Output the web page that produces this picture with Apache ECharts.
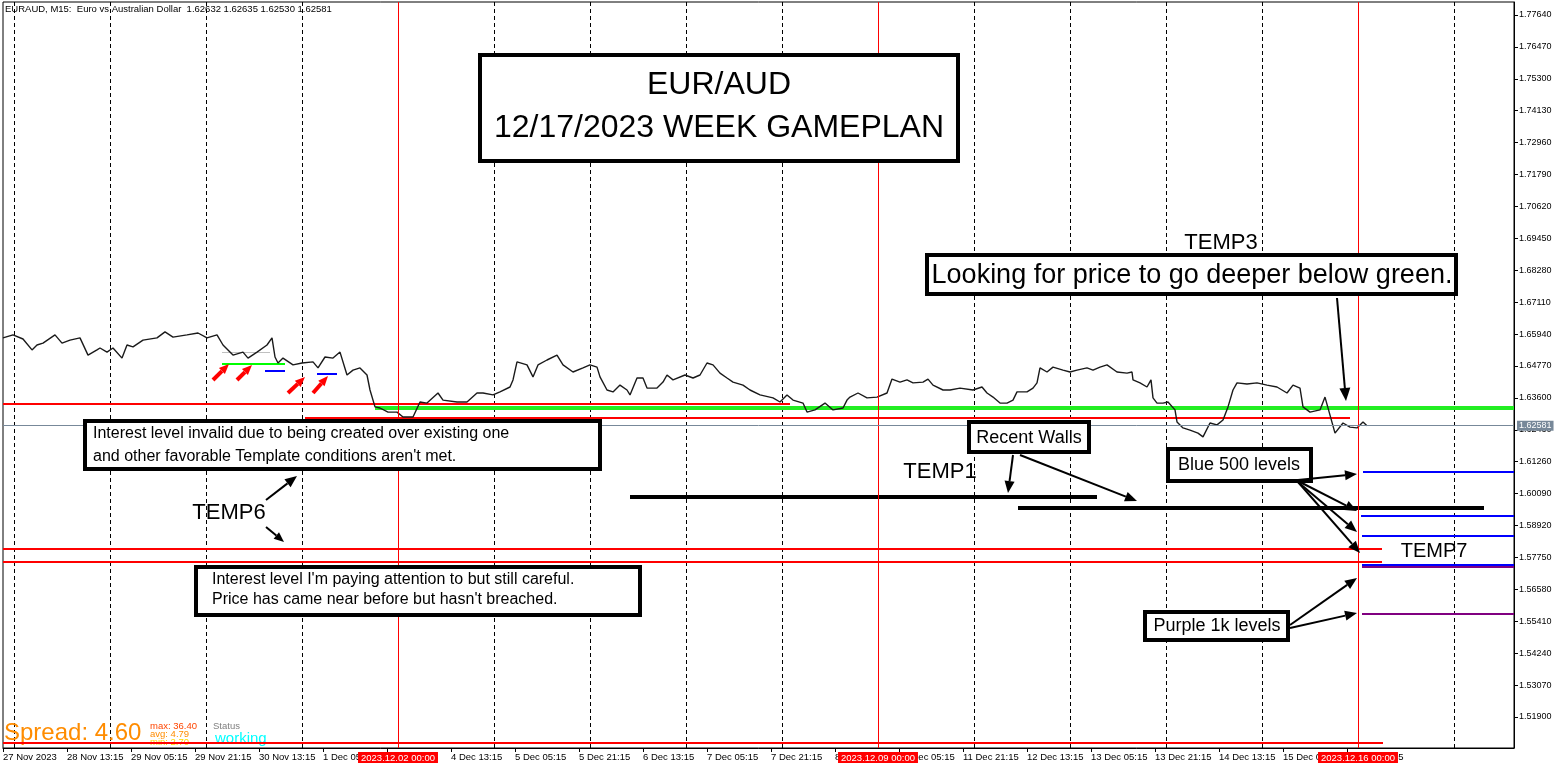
<!DOCTYPE html>
<html>
<head>
<meta charset="utf-8">
<title>EURAUD M15</title>
<script src="https://cdn.jsdelivr.net/npm/echarts@6/dist/echarts.min.js"></script>
<style>
html,body{margin:0;padding:0;background:#fff;}
#chart{width:1567px;height:770px;}
</style>
</head>
<body>
<div id="chart"></div>
<script>
// bottom time scale (one M15 bar per pixel)
var timeLabels = ['27 Nov 2023','28 Nov 13:15','29 Nov 05:15','29 Nov 21:15','30 Nov 13:15','1 Dec 05:15','1 Dec 21:15',
    '4 Dec 13:15','5 Dec 05:15','5 Dec 21:15','6 Dec 13:15','7 Dec 05:15','7 Dec 21:15','8 Dec 13:15',
    '11 Dec 05:15','11 Dec 21:15','12 Dec 13:15','13 Dec 05:15','13 Dec 21:15','14 Dec 13:15','15 Dec 05:15','15 Dec 21:15'];
var timeTickBars = [0,64,128,192,256,320,384,448,512,576,640,704,768,832,896,960,1024,1088,1152,1216,1280,1344];
var priceTicks = [1.519,1.5307,1.5424,1.5541,1.5658,1.5775,1.5892,1.6009,1.6126,1.6243,1.636,1.6477,
    1.6594,1.6711,1.6828,1.6945,1.7062,1.7179,1.7296,1.7413,1.753,1.7647,1.7764];

// price (bar index, price)
var priceBars = [
    0,10,20,29,34,40,52,59,67,77,
    85,94,97,104,110,119,124,130,140,154,
    162,170,184,195,204,214,220,230,240,245,
    254,264,269,272,275,280,290,299,310,315,
    322,330,337,344,350,357,364,367,372,377,
    385,394,400,410,417,424,435,440,454,464,
    474,480,490,497,507,510,514,524,530,535,
    544,554,560,570,580,587,594,597,604,610,
    617,624,627,634,640,644,654,660,664,670,
    682,690,697,704,710,717,724,730,740,747,
    757,770,777,784,790,800,804,812,822,830,
    840,844,847,855,864,874,884,889,897,904,
    910,920,925,930,940,947,957,970,979,984,
    990,997,1004,1010,1014,1024,1030,1034,1037,1044,
    1050,1060,1067,1074,1084,1090,1097,1104,1114,1124,
    1129,1130,1137,1144,1148,1150,1154,1160,1165,1172,
    1174,1180,1187,1195,1200,1207,1214,1220,1225,1230,
    1234,1244,1254,1264,1274,1284,1290,1297,1300,1307,
    1317,1322,1327,1332,1340,1347,1354,1360,1364];
var priceValues = [
    1.6580,1.6591,1.6576,1.6536,1.6554,1.6561,1.6591,1.6561,1.6572,1.6580,
    1.6517,1.6536,1.6543,1.6528,1.6543,1.6506,1.6554,1.6547,1.6572,1.6580,
    1.6602,1.6583,1.6591,1.6598,1.6580,1.6591,1.6554,1.6517,1.6528,1.6506,
    1.6528,1.6554,1.6580,1.6510,1.6488,1.6506,1.6481,1.6488,1.6492,1.6470,
    1.6510,1.6506,1.6528,1.6444,1.6462,1.6470,1.6444,1.6389,1.6327,1.6323,
    1.6308,1.6308,1.6290,1.6290,1.6345,1.6341,1.6378,1.6352,1.6345,1.6345,
    1.6378,1.6378,1.6371,1.6382,1.6400,1.6426,1.6492,1.6481,1.6437,1.6481,
    1.6499,1.6517,1.6481,1.6455,1.6470,1.6481,1.6473,1.6437,1.6389,1.6382,
    1.6407,1.6389,1.6371,1.6433,1.6433,1.6396,1.6396,1.6418,1.6444,1.6426,
    1.6444,1.6433,1.6444,1.6488,1.6481,1.6451,1.6433,1.6418,1.6407,1.6389,
    1.6371,1.6360,1.6345,1.6371,1.6352,1.6341,1.6308,1.6316,1.6341,1.6316,
    1.6323,1.6352,1.6363,1.6378,1.6360,1.6363,1.6378,1.6429,1.6418,1.6426,
    1.6415,1.6418,1.6429,1.6407,1.6389,1.6389,1.6396,1.6389,1.6400,1.6378,
    1.6363,1.6341,1.6341,1.6352,1.6382,1.6382,1.6396,1.6415,1.6470,1.6455,
    1.6473,1.6462,1.6455,1.6462,1.6470,1.6462,1.6473,1.6481,1.6455,1.6451,
    1.6455,1.6426,1.6415,1.6400,1.6426,1.6360,1.6341,1.6341,1.6345,1.6316,
    1.6272,1.6250,1.6242,1.6231,1.6217,1.6268,1.6261,1.6279,1.6327,1.6389,
    1.6415,1.6411,1.6415,1.6407,1.6400,1.6378,1.6407,1.6396,1.6327,1.6308,
    1.6316,1.6363,1.6297,1.6231,1.6268,1.6253,1.6250,1.6272,1.6258];
var lastPrice = 1.62581;

var weekBars = [395, 875, 1355];
var weekLabels = ['2023.12.02 00:00', '2023.12.09 00:00', '2023.12.16 00:00'];

// drawn levels: price, first bar, last bar
var redLevels = [1.6338, 1.6286, 1.5806, 1.5758, 1.50947];
var redFrom = [0, 302, 0, 0, 0];
var redTo = [787, 1347, 1379, 1379, 1380];
var greenLevels = [1.6323];
var greenFrom = [372];
var greenTo = [1511];
var wallLevels = [1.59967, 1.59563];
var wallFrom = [627, 1015];
var wallTo = [1094, 1481];
var blueLevels = [1.60884, 1.5927, 1.58537, 1.57473];
var blueFrom = [1360, 1358, 1359, 1359];
var blueTo = [1511, 1511, 1511, 1511];
var purpleLevels = [1.5740, 1.55677];
var purpleFrom = [1359, 1359];
var purpleTo = [1511, 1511];
var oldLimeLevels = [1.6484];
var oldLimeFrom = [219];
var oldLimeTo = [282];
var oldBlueLevels = [1.6459, 1.6448];
var oldBlueFrom = [262, 314];
var oldBlueTo = [282, 334];
var oldGrayLevels = [1.6528];
var oldGrayFrom = [219];
var oldGrayTo = [267];

var FONT = '"Liberation Sans", Arial, sans-serif';

function levelData(prices, from, to) {
    return prices.map(function (p, i) {
        return {coords: [[from[i], p], [to[i], p]]};
    });
}

function levelSeries(prices, from, to, color, width) {
    return {
        type: 'lines', coordinateSystem: 'cartesian2d', silent: true, z: 3,
        lineStyle: {color: color, width: width, opacity: 1},
        data: levelData(prices, from, to)
    };
}

function arrow(x1, y1, x2, y2, color, width, head) {
    var a = Math.atan2(y2 - y1, x2 - x1), c = Math.cos(a), s = Math.sin(a);
    var bx = x2 - head * c, by = y2 - head * s, hw = head * 0.42;
    return [
        {type: 'line', z: 100, shape: {x1: x1, y1: y1, x2: bx, y2: by}, style: {stroke: color, lineWidth: width}},
        {type: 'polygon', z: 100, shape: {points: [[x2, y2], [bx - hw * s, by + hw * c], [bx + hw * s, by - hw * c]]}, style: {fill: color}}
    ];
}

function box(x, y, w, h) {
    return {type: 'rect', z: 100, shape: {x: x, y: y, width: w, height: h}, style: {fill: '#fff', stroke: '#000', lineWidth: 4}};
}

function label(x, y, text, size, align, color, z) {
    return {type: 'text', z: z || 101, x: x, y: y,
        style: {text: text, font: size + 'px ' + FONT, fill: color || '#000', textAlign: align || 'center', textVerticalAlign: 'middle'}};
}

var gridBars = [];
for (var k = 0; k < 16; k++) { gridBars.push(11 + 96 * k); }

var marks = [
    label(5, 9, 'EURAUD, M15:  Euro vs Australian Dollar  1.62632 1.62635 1.62530 1.62581', 9.5, 'left', '#000', 1),
    box(480, 55, 478, 106),
    label(719, 85, 'EUR/AUD', 32),
    label(719, 128, '12/17/2023 WEEK GAMEPLAN', 32),
    label(1221, 243, 'TEMP3', 22),
    box(927, 255, 529, 39),
    label(1192, 276, 'Looking for price to go deeper below green.', 27),
    box(85, 421, 515, 48),
    label(93, 434, 'Interest level invalid due to being created over existing one', 16, 'left'),
    label(93, 457, "and other favorable Template conditions aren't met.", 16, 'left'),
    box(969, 422, 120, 30),
    label(1029, 438, 'Recent Walls', 18),
    label(940, 472, 'TEMP1', 22),
    box(1168, 449, 143, 32),
    label(1239, 465, 'Blue 500 levels', 18),
    label(229, 513, 'TEMP6', 22),
    label(1434, 551, 'TEMP7', 20),
    box(196, 567, 444, 48),
    label(212, 580, "Interest level I'm paying attention to but still careful.", 16, 'left'),
    label(212, 600, "Price has came near before but hasn't breached.", 16, 'left'),
    box(1145, 612, 143, 28),
    label(1217, 626, 'Purple 1k levels', 18),
    // spread indicator
    label(4, 733, 'Spread: 4.60', 24, 'left', '#ff8c00', 1),
    label(150, 726, 'max: 36.40', 9.5, 'left', '#ff4500', 1),
    label(150, 734, 'avg: 4.79', 9.5, 'left', '#ff8c00', 1),
    label(150, 742, 'min: 2.70', 9.5, 'left', '#ffd700', 1),
    label(213, 726, 'Status', 9.5, 'left', '#808080', 1),
    label(215, 739, 'working', 15, 'left', '#00ffff', 1)
];
var arrows = [
    [1337, 298, 1346, 401, '#000', 2, 13],
    [266, 500, 297, 476, '#000', 2, 12],
    [266, 527, 284, 542, '#000', 2, 10],
    [1013, 455, 1008, 493, '#000', 2, 12],
    [1020, 455, 1137, 501, '#000', 2, 12],
    [1298, 480, 1357, 474, '#000', 2, 12],
    [1298, 481, 1357, 511, '#000', 2, 12],
    [1298, 482, 1357, 532, '#000', 2, 12],
    [1298, 482, 1360, 553, '#000', 2, 12],
    [1290, 625, 1357, 578, '#000', 2, 12],
    [1290, 628, 1357, 613, '#000', 2, 12],
    [213, 380, 229, 364, '#ff0000', 4, 10],
    [237, 380, 252, 365, '#ff0000', 4, 10],
    [288, 393, 305, 377, '#ff0000', 4, 10],
    [313, 393, 328, 376, '#ff0000', 4, 10]
];
arrows.forEach(function (a) { marks = marks.concat(arrow(a[0], a[1], a[2], a[3], a[4], a[5], a[6])); });

var priceData = priceBars.map(function (b, i) { return [b, priceValues[i]]; });

var weekLines = weekBars.map(function (b, i) {
    return {
        xAxis: b,
        lineStyle: {color: '#ff0000', width: 1, type: 'solid'},
        label: {show: true, position: 'start', distance: 4, formatter: weekLabels[i], color: '#fff',
            backgroundColor: '#ff0000', padding: [1, 3, 0, 3], fontSize: 9.5, fontFamily: FONT}
    };
});

var chart = echarts.init(document.getElementById('chart'));
var option = {
    animation: false,
    backgroundColor: '#fff',
    grid: {left: 3, right: 53, top: 2, bottom: 22, show: true, borderColor: '#000', borderWidth: 1,
        backgroundColor: '#fff', containLabel: false, outerBoundsMode: 'none'},
    xAxis: [{
        type: 'value', min: 0, max: 1511, position: 'bottom',
        axisLine: {show: true, onZero: false, lineStyle: {color: '#000'}},
        axisTick: {show: true, customValues: timeTickBars, length: 4, lineStyle: {color: '#000'}},
        axisLabel: {customValues: timeTickBars, align: 'left', margin: 4, color: '#000', fontSize: 9.5, fontFamily: FONT,
            formatter: function (v) { var i = timeTickBars.indexOf(v); return i < 0 ? '' : timeLabels[i]; }},
        splitLine: {show: false}
    }, {
        type: 'value', min: 0, max: 1511, position: 'top',
        axisLine: {show: false, onZero: false}, axisLabel: {show: false}, splitLine: {show: false},
        axisTick: {show: true, inside: true, length: 746, customValues: gridBars,
            lineStyle: {color: '#000', width: 1, type: [4, 3]}}
    }],
    yAxis: {
        type: 'value', position: 'right', min: 1.50763, max: 1.78117,
        splitLine: {show: false},
        axisLine: {show: true, onZero: false, lineStyle: {color: '#000'}},
        axisTick: {show: true, customValues: priceTicks, length: 4, lineStyle: {color: '#000'}},
        axisLabel: {customValues: priceTicks, margin: 5, color: '#000', fontSize: 9, fontFamily: FONT,
            formatter: function (v) { return v.toFixed(5); }}
    },
    series: [{
        type: 'line', name: 'EURAUD', data: priceData, showSymbol: false, silent: true, z: 4,
        lineStyle: {color: '#1a1a1a', width: 1.4},
        markLine: {
            silent: true, symbol: 'none', animation: false, precision: 5,
            data: weekLines.concat([{
                yAxis: lastPrice,
                lineStyle: {color: '#778899', width: 1, type: 'solid'},
                label: {show: true, position: 'end', distance: 3, formatter: lastPrice.toFixed(5), color: '#fff',
                    backgroundColor: '#778899', padding: [1, 2, 0, 2], fontSize: 9, fontFamily: FONT}
            }])
        }
    },
        levelSeries(redLevels, redFrom, redTo, '#ff0000', 2),
        levelSeries(oldGrayLevels, oldGrayFrom, oldGrayTo, '#c0c0c0', 1),
        levelSeries(oldLimeLevels, oldLimeFrom, oldLimeTo, '#00ff00', 2),
        levelSeries(oldBlueLevels, oldBlueFrom, oldBlueTo, '#0000ff', 2),
        levelSeries(greenLevels, greenFrom, greenTo, '#22ee22', 4),
        levelSeries(wallLevels, wallFrom, wallTo, '#000000', 4),
        levelSeries(blueLevels, blueFrom, blueTo, '#0000ff', 2),
        levelSeries(purpleLevels, purpleFrom, purpleTo, '#800080', 2)
    ],
    graphic: {elements: marks}
};
chart.setOption(option);
</script>
</body>
</html>
